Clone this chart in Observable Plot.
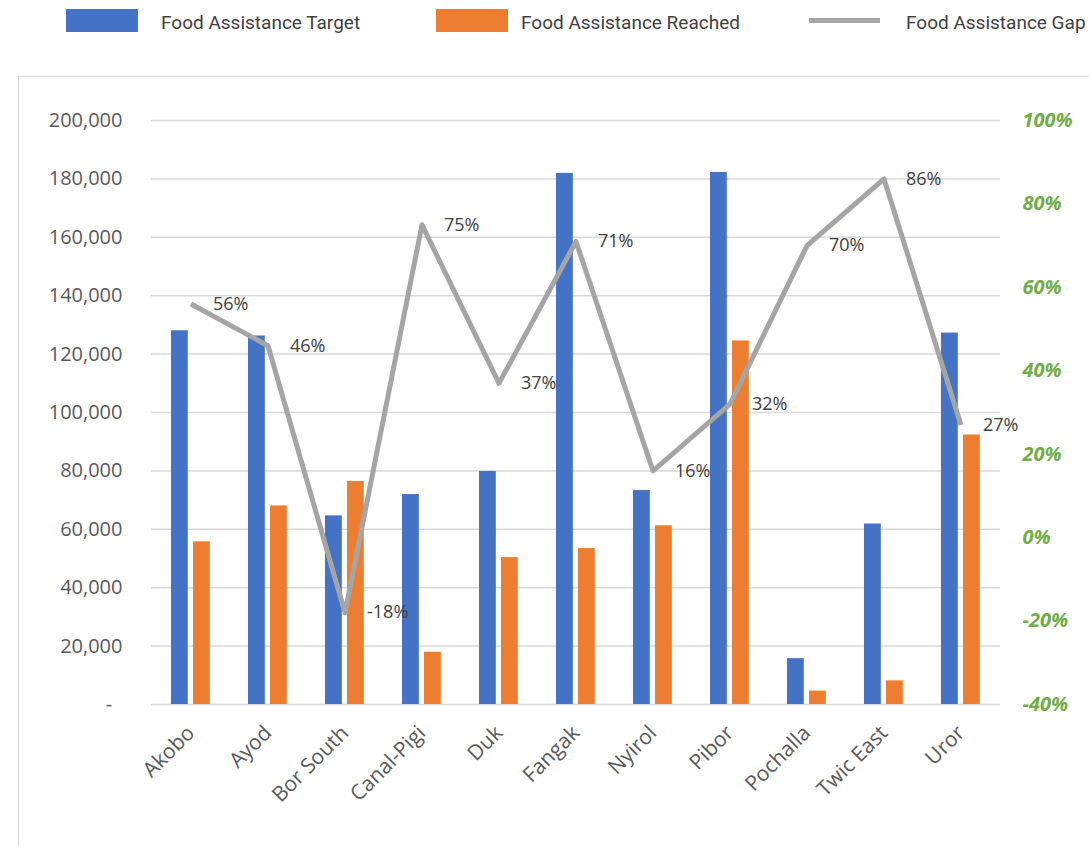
<!DOCTYPE html>
<html>
<head>
<meta charset="utf-8">
<script src="https://cdn.jsdelivr.net/npm/d3@7"></script>
<script src="https://cdn.jsdelivr.net/npm/@observablehq/plot@0.6"></script>
<style>
  html, body { margin: 0; padding: 0; background: #fff; overflow: hidden; width: 1089px; height: 846px; }
  #page { position: relative; width: 1089px; height: 846px; overflow: hidden; }
  .lg { position: absolute; }
  .lgtext { position: absolute; font-family: Roboto, sans-serif; font-size: 19px; color: #404040; top: 11px; white-space: nowrap; }
  #frame { position: absolute; left: 18px; top: 76px; width: 1200px; height: 900px; border: 1.5px solid #d9d9d9; box-sizing: border-box; }
  #chart { position: absolute; left: 0; top: 76px; }
</style>
</head>
<body>
<div id="page">
  <div id="frame"></div>
  <div class="lg" style="left:66px; top:9px; width:72px; height:23px; background:#4472C4;"></div>
  <div class="lgtext" style="left:161px;">Food Assistance Target</div>
  <div class="lg" style="left:436px; top:9px; width:72px; height:23px; background:#ED7D31;"></div>
  <div class="lgtext" style="left:521px;">Food Assistance Reached</div>
  <div class="lg" style="left:809px; top:18px; width:71px; height:5px; background:#A5A5A5;"></div>
  <div class="lgtext" style="left:906px;">Food Assistance Gap</div>
  <div id="chart"></div>
</div>
<script>
const categories = ["Akobo","Ayod","Bor South","Canal-Pigi","Duk","Fangak","Nyirol","Pibor","Pochalla","Twic East","Uror"];
const target  = [128000,126200,64600,71900,79800,181900,73300,182200,15700,61800,127200];
const reached = [55700,68000,76400,17900,50300,53400,61200,124500,4600,8100,92300];
const gapPct  = [56,46,-18,75,37,71,16,32,70,86,27];
const yTicks  = [0,20000,40000,60000,80000,100000,120000,140000,160000,180000,200000];
const pctTicks = [-40,-20,0,20,40,60,80,100];

const yMax = 200000, pMin = -40, pMax = 100;
const pctToY = p => (p - pMin) / (pMax - pMin) * yMax;
const yToPct = v => Math.round(v / yMax * (pMax - pMin) + pMin);

const data = categories.map((c, i) => ({cat: c, target: target[i], reached: reached[i], gap: gapPct[i]}));

const font = "'Open Sans', sans-serif";

const chart = Plot.plot({
  width: 1089,
  height: 770,
  marginLeft: 151,
  marginRight: 89,
  marginTop: 44,
  marginBottom: 142,
  style: {fontFamily: font, background: "transparent", overflow: "visible"},
  x: {domain: categories, padding: 0, label: null},
  y: {domain: [0, yMax], label: null},
  marks: [
    Plot.ruleY(yTicks, {stroke: "#D9D9D9", strokeWidth: 1.5}),
    Plot.barY(data, {x: "cat", y: "target", fill: "#4472C4", insetLeft: 19, insetRight: 41.2}),
    Plot.barY(data, {x: "cat", y: "reached", fill: "#ED7D31", insetLeft: 41, insetRight: 19.2}),
    Plot.line(data, {x: "cat", y: d => pctToY(d.gap), stroke: "#A5A5A5", strokeWidth: 5, strokeLinejoin: "round", strokeLinecap: "butt"}),
    Plot.text(data, {x: "cat", y: d => pctToY(d.gap), text: d => d.gap + "%", dx: 22, textAnchor: "start", fontSize: 18, fill: "#404040"}),
    Plot.axisY(yTicks, {anchor: "left", tickSize: 0, tickPadding: 29, fontSize: 20, fill: "#595959", label: null,
      tickFormat: d => d === 0 ? "-\u00a0\u00a0" : d3.format(",")(d)}),
    Plot.axisY(pctTicks.map(pctToY), {anchor: "right", tickSize: 0, tickPadding: 22, fontSize: 20, fill: "#70AD47",
      fontWeight: "bold", fontStyle: "italic", label: null, tickFormat: v => yToPct(v) + "%"}),
    Plot.axisX({tickSize: 0, tickPadding: 25, tickRotate: -45, fontSize: 21, fill: "#595959", label: null})
  ]
});
document.getElementById("chart").appendChild(chart);
</script>
</body>
</html>
